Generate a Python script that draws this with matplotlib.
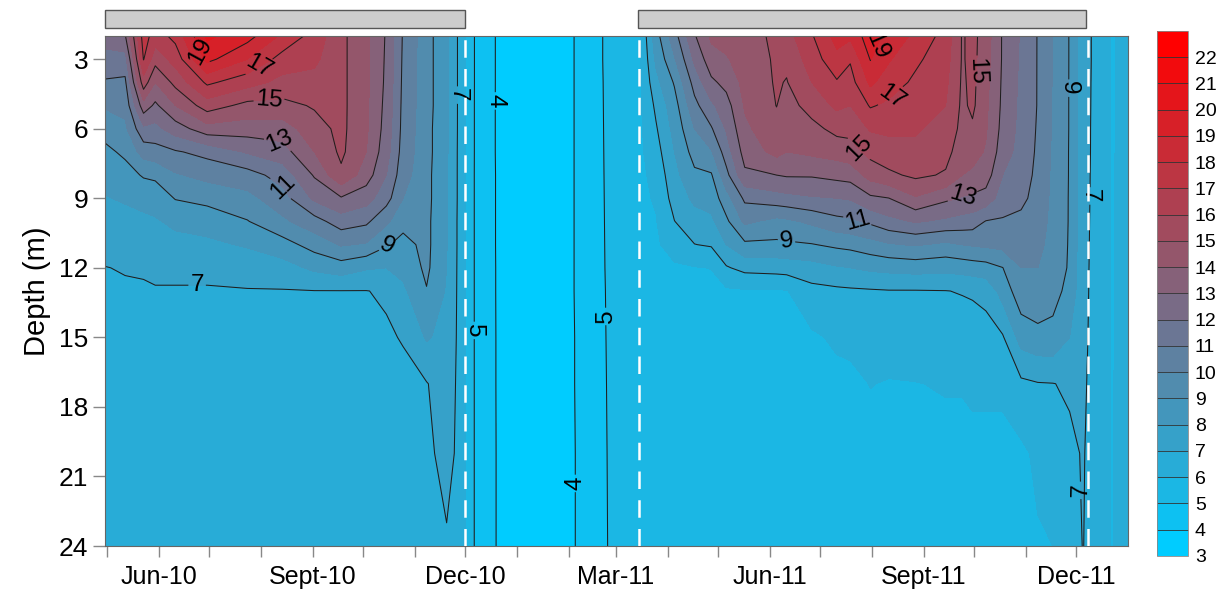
import numpy as np
import pandas as pd
import matplotlib
matplotlib.use("Agg")
import matplotlib.pyplot as plt
import matplotlib.dates as mdates
from matplotlib.colors import ListedColormap, BoundaryNorm, to_rgb
from matplotlib.patches import Rectangle
from matplotlib.transforms import blended_transform_factory

plt.rcParams['font.family'] = ['Liberation Sans', 'DejaVu Sans']

# sampling depths (m)
depths = [2, 3, 4, 5, 6, 7, 8, 9, 10, 11, 12, 13, 15, 17, 20, 24]

# profile dates
sample_dates = [
    "2010-04-30", "2010-05-12", "2010-05-23", "2010-05-30", "2010-06-11",
    "2010-06-30", "2010-07-24", "2010-08-14", "2010-09-02", "2010-09-18",
    "2010-10-03", "2010-10-15", "2010-10-25", "2010-11-08", "2010-11-20",
    "2010-11-27", "2010-12-07", "2010-12-23", "2011-01-16", "2011-02-06",
    "2011-02-26", "2011-03-15", "2011-03-25", "2011-04-05", "2011-04-17",
    "2011-04-27", "2011-05-06", "2011-05-17", "2011-06-05", "2011-06-11",
    "2011-06-26", "2011-07-11", "2011-07-19", "2011-07-31", "2011-08-11",
    "2011-08-27", "2011-09-14", "2011-09-24", "2011-09-30", "2011-10-08",
    "2011-10-18", "2011-10-29", "2011-11-08", "2011-11-17", "2011-11-27",
    "2011-12-05", "2011-12-13", "2011-12-22", "2012-01-01",
]

# temperature profiles (deg C), one row per date, top to bottom
temp_profiles = [
    [12.5, 11.6, 10.9, 10.1, 9.4, 8.75, 8.3, 7.95, 7.6, 7.3, 6.98, 6.85, 6.7, 6.6, 6.5, 6.4],
    [12.9, 11.6, 10.8, 10.3, 9.8, 9.2, 8.6, 8.1, 7.7, 7.4, 7.05, 6.9, 6.75, 6.6, 6.5, 6.4],
    [17.5, 17.05, 15.6, 13.6, 11.8, 10.4, 9.1, 8.3, 7.8, 7.45, 7.1, 6.9, 6.75, 6.6, 6.5, 6.4],
    [16.5, 15.4, 14.0, 12.8, 11.7, 10.6, 9.2, 8.4, 7.9, 7.5, 7.15, 6.95, 6.8, 6.65, 6.5, 6.4],
    [17.3, 16.4, 15.3, 14.0, 12.5, 10.9, 9.9, 9.05, 8.2, 7.7, 7.15, 6.95, 6.85, 6.7, 6.55, 6.45],
    [20.2, 19.3, 17.2, 15.5, 13.6, 11.3, 10.3, 9.3, 8.4, 7.8, 7.3, 6.9, 6.75, 6.65, 6.55, 6.45],
    [19.4, 18.0, 16.4, 14.7, 13.5, 12.1, 10.6, 9.7, 8.95, 8.1, 7.4, 6.95, 6.75, 6.65, 6.55, 6.45],
    [17.8, 16.6, 15.7, 14.7, 13.5, 12.6, 11.4, 10.6, 9.8, 8.6, 7.6, 6.95, 6.75, 6.65, 6.55, 6.45],
    [16.6, 16.2, 15.7, 15.1, 14.6, 14.0, 13.1, 12.2, 10.6, 9.4, 8.2, 6.98, 6.75, 6.65, 6.55, 6.45],
    [15.25, 15.25, 15.25, 15.25, 15.25, 15.2, 14.8, 12.9, 11.5, 10.1, 8.5, 6.98, 6.75, 6.65, 6.55, 6.45],
    [14.2, 14.2, 14.2, 14.2, 14.15, 14.0, 13.5, 12.4, 11.2, 9.9, 8.1, 6.98, 6.8, 6.65, 6.55, 6.45],
    [12.9, 12.85, 12.8, 12.7, 12.6, 12.4, 12.0, 11.4, 10.2, 9.1, 8.0, 7.1, 6.9, 6.7, 6.6, 6.5],
    [10.9, 10.85, 10.8, 10.75, 10.7, 10.6, 10.4, 10.0, 9.3, 8.7, 8.3, 7.8, 7.05, 6.8, 6.65, 6.5],
    [9.4, 9.4, 9.4, 9.4, 9.35, 9.35, 9.3, 9.3, 9.25, 9.25, 9.2, 8.95, 8.1, 6.95, 6.8, 6.6],
    [8.2, 8.2, 8.2, 8.2, 8.15, 8.15, 8.1, 8.1, 8.05, 8.05, 8.0, 7.9, 7.7, 7.5, 7.3, 6.9],
    [6.9, 6.9, 6.9, 6.9, 6.9, 6.88, 6.88, 6.88, 6.86, 6.86, 6.85, 6.85, 6.85, 6.84, 6.84, 6.82],
    [4.92, 4.92, 4.92, 4.91, 4.91, 4.91, 4.9, 4.9, 4.9, 4.9, 4.9, 4.9, 4.9, 4.9, 4.9, 4.9],
    [3.7, 3.7, 3.7, 3.7, 3.7, 3.7, 3.72, 3.72, 3.72, 3.72, 3.73, 3.73, 3.74, 3.74, 3.75, 3.75],
    [3.5, 3.5, 3.5, 3.5, 3.5, 3.5, 3.5, 3.5, 3.5, 3.5, 3.5, 3.5, 3.5, 3.5, 3.5, 3.5],
    [4.05, 4.05, 4.05, 4.05, 4.05, 4.05, 4.05, 4.05, 4.05, 4.05, 4.05, 4.05, 4.04, 4.04, 4.03, 4.03],
    [5.3, 5.3, 5.28, 5.27, 5.26, 5.25, 5.24, 5.23, 5.22, 5.21, 5.2, 5.18, 5.16, 5.14, 5.12, 5.1],
    [5.85, 5.8, 5.8, 5.8, 5.78, 5.78, 5.76, 5.76, 5.75, 5.75, 5.74, 5.74, 5.72, 5.72, 5.7, 5.7],
    [8.6, 8.2, 7.7, 7.2, 6.9, 6.6, 6.3, 6.1, 5.95, 5.9, 5.85, 5.82, 5.8, 5.78, 5.75, 5.72],
    [10.6, 9.9, 9.1, 8.6, 8.3, 8.0, 7.7, 7.4, 6.98, 6.3, 5.9, 5.85, 5.8, 5.75, 5.7, 5.7],
    [12.9, 12.2, 11.4, 10.7, 10.0, 9.4, 8.8, 8.2, 7.6, 6.98, 5.95, 5.8, 5.75, 5.7, 5.65, 5.6],
    [14.2, 13.6, 12.8, 11.8, 10.9, 9.9, 8.9, 8.4, 7.8, 7.1, 6.02, 5.75, 5.7, 5.65, 5.6, 5.55],
    [14.4, 13.9, 13.3, 12.6, 12.1, 11.5, 10.7, 9.6, 8.8, 8.0, 6.9, 5.85, 5.7, 5.65, 5.6, 5.55],
    [14.7, 14.5, 14.3, 14.1, 13.8, 13.4, 12.8, 11.2, 10.2, 8.8, 7.3, 5.9, 5.7, 5.65, 5.6, 5.55],
    [15.15, 15.12, 15.1, 15.02, 14.7, 14.3, 13.0, 11.6, 9.7, 8.8, 7.4, 5.9, 5.7, 5.65, 5.6, 5.55],
    [15.6, 15.2, 14.95, 14.6, 14.3, 14.0, 13.1, 11.7, 9.8, 8.85, 7.45, 5.95, 5.7, 5.65, 5.6, 5.55],
    [16.9, 16.5, 16.0, 15.4, 14.7, 14.2, 13.1, 11.9, 10.2, 8.95, 7.6, 6.7, 5.85, 5.7, 5.6, 5.55],
    [18.4, 17.7, 16.9, 16.2, 15.3, 14.4, 13.3, 12.0, 10.7, 9.2, 7.9, 6.8, 6.15, 5.75, 5.6, 5.55],
    [18.2, 17.1, 16.6, 16.0, 15.3, 14.6, 13.4, 12.1, 10.8, 9.3, 8.0, 6.85, 6.2, 5.8, 5.6, 5.55],
    [19.6, 19.05, 18.2, 17.1, 16.1, 15.3, 14.4, 12.8, 11.2, 9.6, 8.2, 6.9, 6.35, 6.02, 5.75, 5.6],
    [18.6, 18.1, 17.5, 16.8, 16.2, 15.6, 14.8, 12.98, 11.7, 9.9, 8.3, 6.95, 6.4, 5.95, 5.7, 5.6],
    [17.8, 17.2, 16.8, 16.4, 16.1, 15.8, 15.2, 13.9, 12.1, 10.1, 8.4, 6.95, 6.45, 5.98, 5.75, 5.6],
    [16.6, 16.4, 16.2, 16.0, 15.7, 15.3, 14.9, 13.2, 11.8, 9.8, 8.3, 6.98, 6.5, 6.05, 5.8, 5.65],
    [14.9, 14.9, 14.85, 14.8, 14.7, 14.5, 14.0, 12.9, 11.6, 10.02, 8.4, 7.05, 6.55, 6.05, 5.8, 5.65],
    [15.3, 15.3, 15.25, 15.2, 14.85, 14.4, 13.8, 12.8, 11.5, 10.1, 8.5, 7.1, 6.6, 6.1, 5.85, 5.7],
    [14.5, 14.4, 14.3, 14.2, 14.1, 13.9, 13.5, 12.6, 10.95, 10.2, 8.6, 7.3, 6.6, 6.1, 5.85, 5.7],
    [12.9, 12.9, 12.85, 12.8, 12.7, 12.5, 12.0, 11.5, 10.9, 10.3, 8.98, 8.4, 6.9, 6.1, 5.85, 5.75],
    [11.9, 11.85, 11.8, 11.75, 11.7, 11.6, 11.4, 11.2, 10.8, 10.4, 10.0, 9.6, 8.4, 6.8, 5.8, 5.75],
    [10.95, 10.95, 10.95, 10.95, 10.9, 10.85, 10.8, 10.7, 10.5, 10.3, 10.0, 9.7, 8.7, 6.95, 6.2, 5.9],
    [10.0, 10.0, 9.95, 9.9, 9.9, 9.85, 9.8, 9.75, 9.7, 9.6, 9.5, 9.35, 8.7, 6.98, 6.3, 6.0],
    [8.95, 8.95, 8.95, 8.95, 8.95, 8.94, 8.94, 8.93, 8.93, 8.92, 8.9, 8.7, 8.0, 7.1, 6.85, 6.7],
    [7.4, 7.4, 7.38, 7.36, 7.35, 7.34, 7.32, 7.3, 7.28, 7.26, 7.24, 7.22, 7.18, 7.12, 7.05, 7.02],
    [6.75, 6.75, 6.74, 6.74, 6.73, 6.73, 6.72, 6.72, 6.71, 6.71, 6.7, 6.7, 6.69, 6.68, 6.67, 6.65],
    [5.92, 5.92, 5.92, 5.92, 5.92, 5.92, 5.93, 5.93, 5.93, 5.93, 5.94, 5.94, 5.94, 5.95, 5.95, 5.95],
    [6.3, 6.3, 6.3, 6.3, 6.3, 6.3, 6.3, 6.3, 6.3, 6.3, 6.3, 6.3, 6.3, 6.3, 6.3, 6.3],
]

fill_levels = list(range(3, 24))
line_levels = [4, 5, 7, 9, 11, 13, 15, 17, 19]

# overturn dates (dashed lines) and stratified periods (grey bars)
mixing_dates = ["2010-12-01", "2011-03-15", "2011-12-08"]
strat_periods = [("2010-04-30", "2010-12-01"), ("2011-03-14", "2011-12-07")]

# where the isotherm labels sit
label_spots = [
    ("2010-07-02", 2.5), ("2010-07-30", 3.2), ("2010-08-06", 4.8), ("2010-08-12", 6.6),
    ("2010-08-15", 8.4), ("2010-10-14", 10.9), ("2010-06-24", 12.7), ("2010-11-27", 4.55),
    ("2010-12-17", 4.8), ("2010-12-08", 14.7), ("2011-02-05", 21.3), ("2011-02-21", 14.1),
    ("2011-06-11", 10.8), ("2011-07-24", 9.8), ("2011-07-25", 6.8), ("2011-08-11", 4.5),
    ("2011-08-06", 2.5), ("2011-09-24", 8.9), ("2011-09-30", 3.5), ("2011-11-27", 4.25),
    ("2011-12-09", 8.9), ("2011-12-03", 21.6),
]

month_names = {3: "Mar", 6: "Jun", 9: "Sept", 12: "Dec"}

# cyan -> red, one colour per 1 degree band
c0 = np.array(to_rgb("#00ccff"))
c1 = np.array(to_rgb("#ff0000"))
band_colors = [c0 + (c1 - c0) * i / 19 for i in range(20)]
cmap = ListedColormap(band_colors)
norm = BoundaryNorm(fill_levels, cmap.N)

x = mdates.date2num(pd.to_datetime(sample_dates))
z = np.array(temp_profiles).T

fig = plt.figure(figsize=(12.21, 5.94), dpi=100)
ax = fig.add_axes([0.086, 0.0808, 0.8378, 0.8586])

cf = ax.contourf(x, depths, z, levels=fill_levels, cmap=cmap, norm=norm)
cs = ax.contour(x, depths, z, levels=line_levels, colors="#1e1e1e", linewidths=0.75)
spots = [(mdates.date2num(pd.Timestamp(d)), dep) for d, dep in label_spots]
lbls = ax.clabel(cs, fmt="%d", fontsize=17.5, inline=True, inline_spacing=2,
                 manual=spots, colors="black")

for d in mixing_dates:
    ax.axvline(mdates.date2num(pd.Timestamp(d)), color="white", lw=1.8,
               dashes=(7, 4.5), zorder=4)

trans = blended_transform_factory(ax.transData, ax.transAxes)
for a, b in strat_periods:
    xa = mdates.date2num(pd.Timestamp(a))
    xb = mdates.date2num(pd.Timestamp(b))
    ax.add_patch(Rectangle((xa, 1.016), xb - xa, 0.035, transform=trans,
                           clip_on=False, fc="#cccccc", ec="#555555", lw=1.0))

ax.set_ylim(24, 2)
ax.set_yticks(range(3, 25, 3))
ax.set_xlim(mdates.date2num(pd.Timestamp("2010-04-30")),
            mdates.date2num(pd.Timestamp("2011-12-31 20:00")))
ticks = pd.date_range("2010-05-01", "2011-12-01", freq="MS")
ax.set_xticks(mdates.date2num(ticks))
ax.set_xticklabels([month_names[t.month] + "-" + t.strftime("%y") if t.month in month_names else ""
                    for t in ticks])

ax.tick_params(axis="x", length=8, width=1, color="#888888", labelsize=18, pad=6)
ax.tick_params(axis="y", length=9, width=1, color="#888888", labelsize=19, pad=3)
ax.set_ylabel("Depth (m)", fontsize=21, labelpad=6)
for s in ax.spines.values():
    s.set_color("#666666")
    s.set_linewidth(0.8)

cax = fig.add_axes([0.9476, 0.064, 0.0254, 0.884])
cb = fig.colorbar(cf, cax=cax, ticks=range(3, 23), drawedges=True)
cb.dividers.set_color("#333333")
cb.dividers.set_linewidth(0.6)
cb.outline.set_edgecolor("#888888")
cb.outline.set_linewidth(0.6)
cax.minorticks_off()
cax.tick_params(which="both", length=0, labelsize=14, pad=5)

fig.savefig("out.png", dpi=100)
